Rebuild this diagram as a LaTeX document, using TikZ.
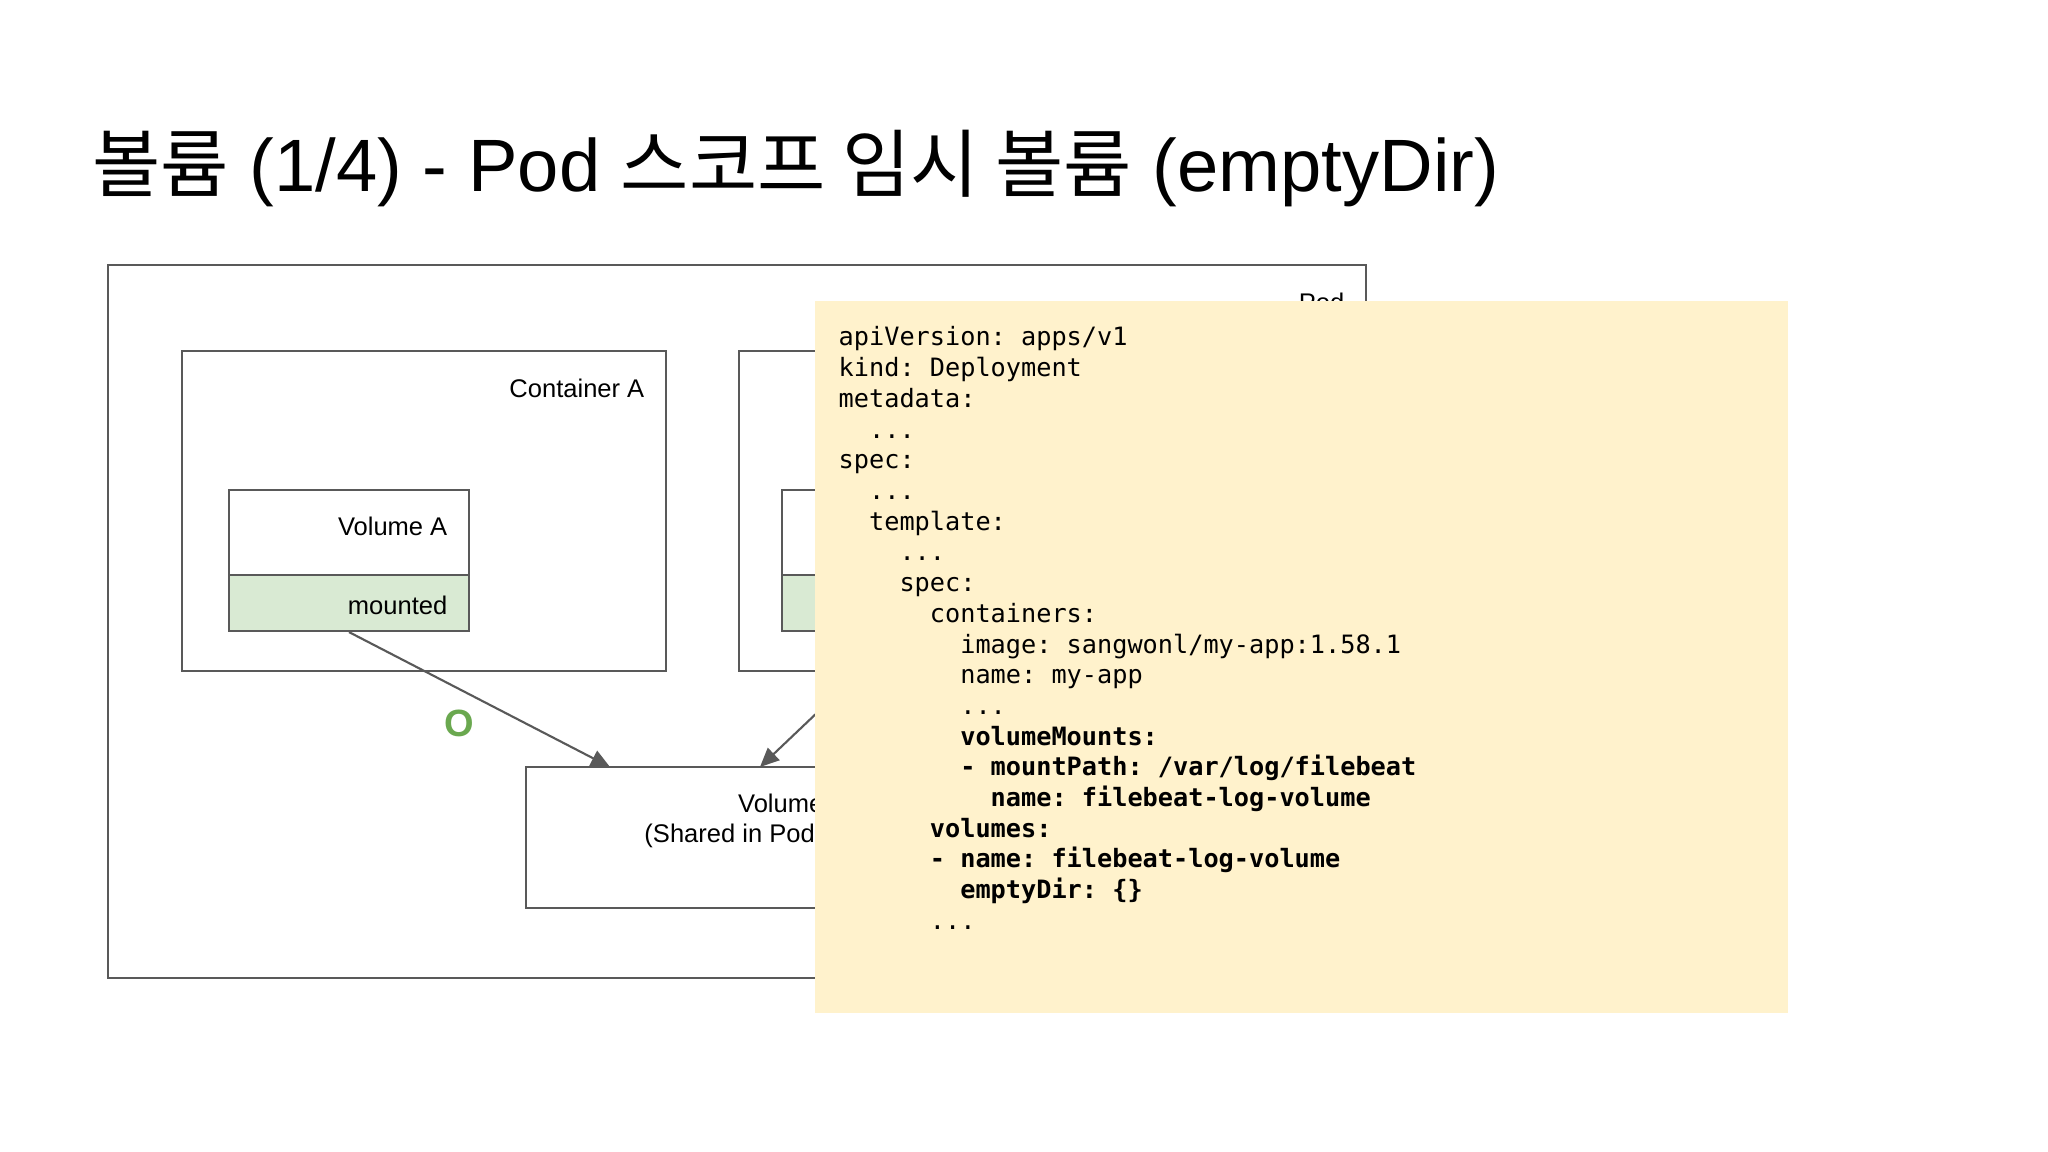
\documentclass[tikz,border=0pt]{standalone}
\usepackage{fontspec}
\setmainfont{Liberation Sans}
\setmonofont{DejaVu Sans Mono}
\newfontfamily\krfont{Noto Sans CJK KR}
\usepackage{tikz}
\usetikzlibrary{positioning}
\usetikzlibrary{arrows.meta}

\definecolor{boxgray}{HTML}{595959}
\definecolor{mountgreen}{HTML}{D9EAD3}
\definecolor{codeyellow}{HTML}{FFF2CC}
\definecolor{okgreen}{HTML}{6AA84F}

\tikzset{
  box/.style={draw=boxgray, line width=0.6pt, fill=white, inner sep=0pt},
  lbl/.style={anchor=base east, inner sep=0pt, font=\fontsize{7.26}{8.7}\selectfont},
  codeline/.style={anchor=base west, inner sep=0pt, font=\ttfamily\fontsize{7.18}{8.7}\selectfont},
  link/.style={draw=boxgray, line width=0.6pt, -{Triangle[length=5.4pt,width=4.8pt]}}
}

\begin{document}
\begin{tikzpicture}[x=0.01cm, y=-0.01cm]

% Set the size of the figure
\useasboundingbox (0,0) rectangle (2048,1152);
\fill[white] (0,0) rectangle (2048,1152);

% Title
\node[anchor=base west, inner sep=0pt, font=\fontsize{21.1}{25}\selectfont] (title) at (92,192)
  {{\krfont 볼륨} (1/4) - Pod {\krfont 스코프 임시 볼륨} (emptyDir)};

% Pod and containers
\node[box, minimum width=12.58cm, minimum height=7.13cm] (pod) at (737,621.5) {};
\node[box, minimum width=4.84cm, minimum height=3.20cm] (contA) at (424,511) {};
\node[box, minimum width=2.40cm, minimum height=0.85cm] (volA) at (349,532.5) {};
\node[box, fill=mountgreen, minimum width=2.40cm, minimum height=0.56cm] (mntA) at (349,603) {};
\node[box, minimum width=4.84cm, minimum height=3.20cm] (contB) at (981,511) {};
\node[box, minimum width=2.40cm, minimum height=0.85cm] (volB) at (902,532.5) {};
\node[box, fill=mountgreen, minimum width=2.40cm, minimum height=0.56cm] (mntB) at (902,603) {};
\node[box, minimum width=3.20cm, minimum height=1.41cm] (shared) at (686,837.5) {};

% Labels
\node[lbl] (podlbl) at (1345,312) {Pod};
\node[lbl] (contAlbl) at (645,398) {Container A};
\node[lbl] (volAlbl) at (448,535) {Volume A};
\node[lbl] (mntAlbl) at (448,614) {mounted};
\node[lbl] (sharedlbl1) at (824,812) {Volume};
\node[lbl] (sharedlbl2) at (824,842) {(Shared in Pod)};

% Mount arrows
\coordinate (inA) at (610,767);
\coordinate (inB) at (760,767);
\draw[link] (mntA.south) -- (inA);
\draw[link] (mntB.south) -- (inB);
\node[anchor=base, inner sep=0pt, text=okgreen, font=\bfseries\fontsize{10.8}{12}\selectfont] (ok) at (459,736) {O};

% Manifest
\node[fill=codeyellow, inner sep=0pt, minimum width=9.73cm, minimum height=7.12cm] (code) at (1301.5,657) {};
\node[codeline] (l0) at (838,346) {apiVersion: apps/v1};
\node[codeline] (l1) at (838,376.7) {kind: Deployment};
\node[codeline] (l2) at (838,407.4) {metadata:};
\node[codeline] (l3) at (868.4,438.1) {...};
\node[codeline] (l4) at (838,468.8) {spec:};
\node[codeline] (l5) at (868.4,499.5) {...};
\node[codeline] (l6) at (868.4,530.2) {template:};
\node[codeline] (l7) at (898.8,560.9) {...};
\node[codeline] (l8) at (898.8,591.6) {spec:};
\node[codeline] (l9) at (929.2,622.3) {containers:};
\node[codeline] (l10) at (959.6,653) {image: sangwonl/my-app:1.58.1};
\node[codeline] (l11) at (959.6,683.7) {name: my-app};
\node[codeline] (l12) at (959.6,714.4) {...};
\node[codeline] (l13) at (959.6,745.1) {\bfseries volumeMounts:};
\node[codeline] (l14) at (959.6,775.8) {\bfseries - mountPath: /var/log/filebeat};
\node[codeline] (l15) at (990,806.5) {\bfseries name: filebeat-log-volume};
\node[codeline] (l16) at (929.2,837.2) {\bfseries volumes:};
\node[codeline] (l17) at (929.2,867.9) {\bfseries - name: filebeat-log-volume};
\node[codeline] (l18) at (959.6,898.6) {\bfseries emptyDir: \{\}};
\node[codeline] (l19) at (929.2,929.3) {...};
\end{tikzpicture}
\end{document}
